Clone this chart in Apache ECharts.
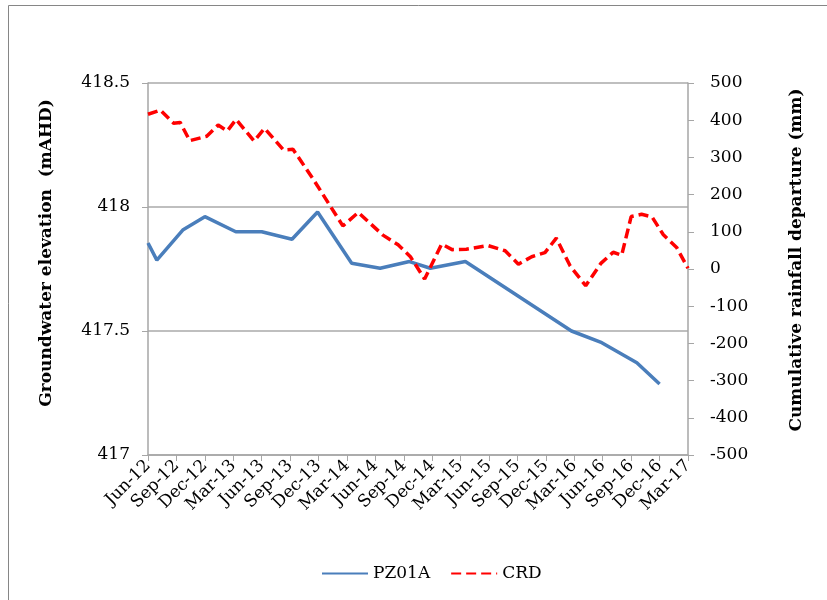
<!DOCTYPE html>
<html>
<head>
<meta charset="utf-8">
<script src="https://cdn.jsdelivr.net/npm/echarts@6/dist/echarts.min.js"></script>
<style>
  html, body { margin: 0; padding: 0; background: #fff; }
  #chart { width: 827px; height: 600px; }
</style>
</head>
<body>
<div id="chart"></div>
<script>
// groundwater level, bore PZ01A (mAHD)
var pzDates = ['2012-06-01', '2012-06-29', '2012-09-21', '2012-12-01', '2013-03-09', '2013-06-01',
    '2013-09-07', '2013-11-28', '2014-03-16', '2014-06-16', '2014-09-19', '2014-11-25',
    '2015-03-16', '2016-02-22', '2016-05-28', '2016-09-19', '2016-12-01'];
var pzLevels = [417.855, 417.786, 417.907, 417.961, 417.90, 417.90,
    417.87, 417.98, 417.773, 417.753, 417.78, 417.753,
    417.78, 417.50, 417.453, 417.372, 417.286];

// cumulative rainfall departure (mm)
var crdDates = ['2012-06-01', '2012-07-10', '2012-08-22', '2012-09-13', '2012-10-13', '2012-12-07',
    '2013-01-13', '2013-02-12', '2013-03-10', '2013-05-07', '2013-06-10', '2013-08-10',
    '2013-09-10', '2013-11-16', '2014-02-18', '2014-04-07', '2014-06-25', '2014-08-13',
    '2014-09-22', '2014-11-07', '2015-01-01', '2015-02-04', '2015-03-19', '2015-05-28',
    '2015-07-22', '2015-09-04', '2015-10-16', '2015-11-28', '2016-01-04', '2016-02-18',
    '2016-04-07', '2016-05-25', '2016-07-04', '2016-08-01', '2016-09-01', '2016-10-04',
    '2016-11-07', '2016-12-13', '2017-01-25', '2017-03-01'];
var crdValues = [416, 427, 392, 394, 345, 357,
    387, 371, 402, 344, 378, 320,
    322, 239, 116, 152, 91, 65,
    33, -27, 67, 52, 53, 63,
    49, 13, 33, 44, 83, 8,
    -45, 15, 45, 37, 141, 147,
    140, 92, 58, 2];

var monthNames = ['Jan', 'Feb', 'Mar', 'Apr', 'May', 'Jun', 'Jul', 'Aug', 'Sep', 'Oct', 'Nov', 'Dec'];

// months counted from 1 Jun 2012
function toMonth(s) {
    var p = s.split('-').map(Number);
    return (p[0] - 2012) * 12 + (p[1] - 6) + (p[2] - 1) / 30;
}
function monthLabel(v) {
    var idx = Math.round(v) + 5;
    var y = 2012 + Math.floor(idx / 12);
    return monthNames[idx % 12] + '-' + String(y).slice(2);
}

var serif = '"DejaVu Serif", "Liberation Serif", serif';
var axisGrey = '#a6a6a6';
var titleFont = 'bold 17px ' + serif;

var myChart = echarts.init(document.getElementById('chart'));

var option = {
    backgroundColor: '#fff',
    animation: false,
    textStyle: { fontFamily: serif },
    graphic: [{
        type: 'rect',
        shape: { x: 8.5, y: 5.5, width: 830, height: 600 },
        style: { fill: 'none', stroke: '#868686', lineWidth: 1 }
    }, {
        // left axis title
        type: 'text',
        x: 47, y: 253,
        rotation: Math.PI / 2,
        style: {
            text: 'Groundwater elevation  (mAHD)',
            font: titleFont, fill: '#000',
            align: 'center', verticalAlign: 'middle'
        }
    }, {
        // right axis title
        type: 'text',
        x: 797, y: 260,
        rotation: Math.PI / 2,
        style: {
            text: 'Cumulative rainfall departure (mm)',
            font: titleFont, fill: '#000',
            align: 'center', verticalAlign: 'middle'
        }
    }],
    grid: { left: 148, right: 139, top: 83, bottom: 145 },
    legend: {
        bottom: 13,
        left: 316,
        itemWidth: 46,
        itemHeight: 12,
        itemGap: 20,
        itemStyle: { opacity: 0 },
        textStyle: { fontFamily: serif, fontSize: 17, color: '#000' },
        data: ['PZ01A', 'CRD']
    },
    xAxis: {
        type: 'value',
        min: 0,
        max: 57,
        interval: 3,
        axisLine: { onZero: false, lineStyle: { color: axisGrey, width: 1.5 } },
        axisTick: { show: true, length: 6, lineStyle: { color: axisGrey } },
        splitLine: { show: false },
        axisLabel: {
            rotate: 45,
            margin: 8,
            fontSize: 17,
            color: '#000',
            fontFamily: serif,
            formatter: monthLabel
        }
    },
    yAxis: [{
        type: 'value',
        min: 417,
        max: 418.5,
        interval: 0.5,
        position: 'left',
        axisLine: { show: true, lineStyle: { color: axisGrey, width: 1.5 } },
        axisTick: { show: true, length: 6, lineStyle: { color: axisGrey } },
        splitLine: { show: true, lineStyle: { color: '#bfbfbf', width: 2 } },
        axisLabel: { fontSize: 17, color: '#000', margin: 18, fontFamily: serif }
    }, {
        type: 'value',
        min: -500,
        max: 500,
        interval: 100,
        position: 'right',
        axisLine: { show: true, lineStyle: { color: axisGrey, width: 1.5 } },
        axisTick: { show: true, length: 6, lineStyle: { color: axisGrey } },
        splitLine: { show: false },
        axisLabel: { fontSize: 17, color: '#000', margin: 22, fontFamily: serif }
    }],
    series: [{
        name: 'PZ01A',
        type: 'line',
        yAxisIndex: 0,
        symbol: 'none',
        color: '#4a7ebb',
        lineStyle: { color: '#4a7ebb', width: 3.5 },
        data: pzDates.map(function (d, i) { return [toMonth(d), pzLevels[i]]; })
    }, {
        name: 'CRD',
        type: 'line',
        yAxisIndex: 1,
        symbol: 'none',
        color: '#ff0000',
        lineStyle: { color: '#ff0000', width: 3.5, type: [10, 5] },
        data: crdDates.map(function (d, i) { return [toMonth(d), crdValues[i]]; })
    }]
};

myChart.setOption(option);
</script>
</body>
</html>
